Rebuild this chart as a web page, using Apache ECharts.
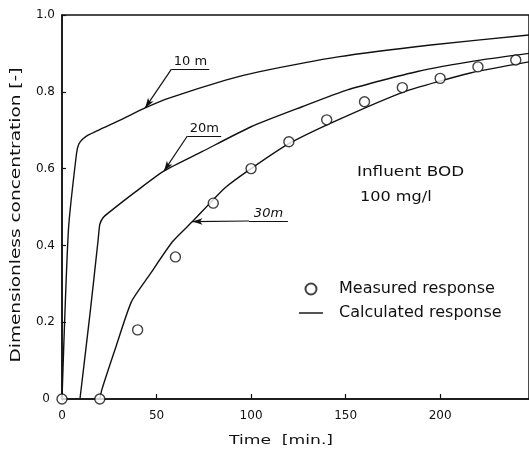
<!DOCTYPE html>
<html>
<head>
<meta charset="utf-8">
<title>Dimensionless concentration response</title>
<script src="https://cdn.jsdelivr.net/npm/echarts@6/dist/echarts.min.js"></script>
<style>
  html, body { margin: 0; padding: 0; background: #fff; }
  #chart { width: 529px; height: 451px; }
</style>
</head>
<body>
<div id="chart"></div>
<script>
// Measured response (time in min, dimensionless concentration)
const measuredTime = [0, 20, 40, 60, 80, 100, 120, 140, 160, 180, 200, 220, 240];
const measuredConc = [0, 0, 0.18, 0.37, 0.51, 0.60, 0.67, 0.727, 0.774, 0.811, 0.835, 0.865, 0.883];

// Calculated response at 10 m
const time10 = [0, 3.4, 7.7, 8.9, 11, 14, 31, 44, 57, 87, 104, 146, 195, 247];
const conc10 = [0, 0.44, 0.64, 0.664, 0.677, 0.688, 0.727, 0.758, 0.784, 0.831, 0.852, 0.891, 0.922, 0.948];

// Calculated response at 20 m
const time20 = [9.5, 15, 19.1, 20, 21.7, 24.4, 39, 54, 74, 100, 127, 151, 188, 222, 247];
const conc20 = [0, 0.23, 0.414, 0.455, 0.472, 0.484, 0.54, 0.594, 0.644, 0.709, 0.761, 0.805, 0.853, 0.883, 0.9];

// Calculated response at 30 m
const time30 = [20, 21, 28, 36.7, 46.3, 58.5, 69, 86, 100, 120, 146, 181, 216, 247];
const conc30 = [0, 0.023, 0.128, 0.253, 0.323, 0.41, 0.462, 0.549, 0.60, 0.665, 0.727, 0.80, 0.849, 0.878];

// Axis tick labels
const xTickValues = [0, 50, 100, 150, 200];
const xTickLabels = ['0', '50', '100', '150', '200'];
const yTickValues = [0, 0.2, 0.4, 0.6, 0.8, 1.0];
const yTickLabels = ['0', '0.2', '0.4', '0.6', '0.8', '1.0'];

const depthLabels = ['10 m', '20m', '30m'];
const noteLines = ['Influent BOD', '100 mg/l'];

const pairs = (xs, ys) => xs.map((x, i) => [x, ys[i]]);

const FONT = 'DejaVu Sans';
const INK = '#111';

function leader(tip, start, end, text, italic) {
  // underline carrying the depth label, plus a leader arrow ending on the curve
  return [
    [
      { coord: start, symbol: 'none',
        label: { show: true, formatter: text, position: 'insideMiddleTop', distance: 1,
                 fontFamily: FONT, fontSize: 13, color: INK,
                 fontStyle: italic ? 'italic' : 'normal' } },
      { coord: end, symbol: 'none' }
    ],
    [
      { coord: start, symbol: 'none', label: { show: false } },
      { coord: tip, symbol: 'arrow', symbolSize: [5, 10] }
    ]
  ];
}

function curveSeries(xs, ys, marks) {
  return {
    type: 'line',
    name: 'Calculated response',
    data: pairs(xs, ys),
    symbol: 'none',
    smooth: 0.2,
    lineStyle: { color: INK, width: 1.4 },
    itemStyle: { color: INK },
    z: 2,
    markLine: {
      silent: true,
      animation: false,
      symbol: ['none', 'none'],
      lineStyle: { color: INK, width: 1.2, type: 'solid' },
      label: { show: false },
      data: marks
    }
  };
}

const chart = echarts.init(document.getElementById('chart'), null, { renderer: 'canvas' });

chart.setOption({
  animation: false,
  backgroundColor: '#fff',
  grid: {
    left: 62, top: 15, right: -2, bottom: 52,
    show: true, borderColor: INK, borderWidth: 1.5
  },
  xAxis: {
    type: 'value',
    min: 0, max: 247, interval: 50,
    splitLine: { show: false },
    axisLine: { lineStyle: { color: INK, width: 1.5 } },
    axisTick: { inside: true, length: 5, lineStyle: { color: INK, width: 1.2 } },
    axisLabel: {
      margin: 11, fontFamily: FONT, fontSize: 12, color: INK, showMaxLabel: false,
      formatter: v => {
        const i = xTickValues.indexOf(v);
        return i < 0 ? '' : xTickLabels[i];
      }
    }
  },
  yAxis: {
    type: 'value',
    min: 0, max: 1, interval: 0.2,
    splitLine: { show: false },
    axisLine: { lineStyle: { color: INK, width: 1.5 } },
    axisTick: { inside: true, length: 4, lineStyle: { color: INK, width: 1.2 } },
    axisLabel: {
      margin: 7, fontFamily: FONT, fontSize: 12, color: INK,
      formatter: v => {
        const i = yTickValues.findIndex(t => Math.abs(t - v) < 1e-6);
        if (i < 0) return '';
        return i === 0 ? '{z|' + yTickLabels[i] + '}' : yTickLabels[i];
      },
      rich: { z: { fontFamily: FONT, fontSize: 12, color: INK, padding: [0, 5, 0, 0] } }
    }
  },
  legend: {
    orient: 'vertical',
    left: 299, top: 281, padding: 0,
    itemWidth: 24, itemHeight: 11, itemGap: 8,
    selectedMode: false,
    symbolKeepAspect: true,
    textStyle: { fontFamily: FONT, fontSize: 16, color: INK, padding: [0, 0, 0, 11] },
    data: [
      { name: 'Measured response' },
      { name: 'Calculated response', icon: 'path://M0,0H100V6H0Z' }
    ]
  },
  graphic: [
    {
      type: 'text', x: 16, y: 215, rotation: Math.PI / 2, scaleX: 1.32,
      style: { text: 'Dimensionless concentration [-]', font: '14px "DejaVu Sans"',
               fill: INK, textAlign: 'center', textVerticalAlign: 'middle' }
    },
    {
      type: 'text', x: 281, y: 441, scaleX: 1.32,
      style: { text: 'Time  [min.]', font: '13px "DejaVu Sans"',
               fill: INK, textAlign: 'center', textVerticalAlign: 'middle' }
    },
    {
      type: 'text', x: 357, y: 172, scaleX: 1.2,
      style: { text: noteLines[0], font: '14px "DejaVu Sans"',
               fill: INK, textAlign: 'left', textVerticalAlign: 'middle' }
    },
    {
      type: 'text', x: 360, y: 197, scaleX: 1.15,
      style: { text: noteLines[1], font: '14px "DejaVu Sans"',
               fill: INK, textAlign: 'left', textVerticalAlign: 'middle' }
    }
  ],
  series: [
    curveSeries(time10, conc10,
      leader([time10[7], conc10[7]], [57.9, 0.859], [77.9, 0.859], depthLabels[0], false)),
    curveSeries(time20, conc20,
      leader([time20[7], conc20[7]], [66.3, 0.685], [84.2, 0.685], depthLabels[1], false)),
    curveSeries(time30, conc30,
      leader([time30[6], conc30[6]], [98.9, 0.4635], [119.5, 0.4635], depthLabels[2], true)),
    {
      type: 'scatter',
      name: 'Measured response',
      data: pairs(measuredTime, measuredConc),
      symbol: 'circle',
      symbolSize: 10,
      itemStyle: { color: '#fff', borderColor: INK, borderWidth: 1.4 },
      z: 3
    }
  ]
});
</script>
</body>
</html>
